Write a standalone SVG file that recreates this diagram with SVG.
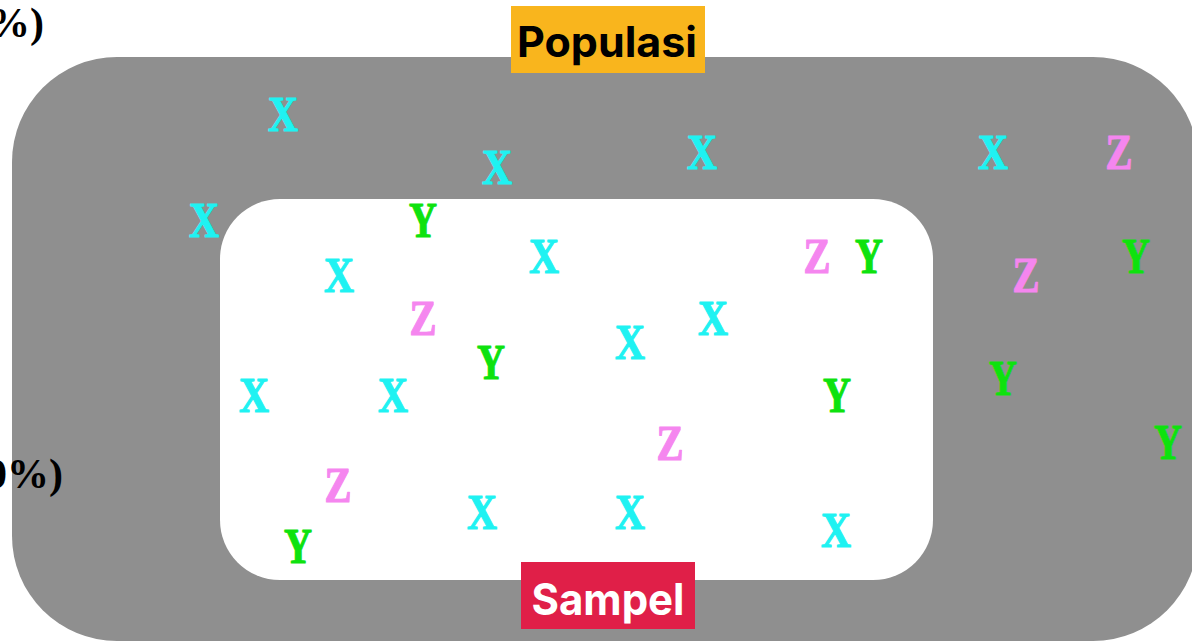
<svg xmlns="http://www.w3.org/2000/svg" width="1192" height="642" viewBox="0 0 1192 642">
<style>
.l{font-family:"Liberation Serif",serif;font-weight:700;font-size:50px;text-anchor:middle;stroke-width:1.2px;stroke-linejoin:round}
.x{fill:#1ff2f2;stroke:#1ff2f2}.y{fill:#0ee20e;stroke:#0ee20e}.z{fill:#f586ef;stroke:#f586ef}
.pct{font-family:"Liberation Serif",serif;font-weight:700;font-size:42px;fill:#000;text-anchor:end}
.lab{font-family:Inter,"Liberation Sans",sans-serif;font-weight:700;text-anchor:middle}
</style>
<rect width="1192" height="642" fill="#fff"/>
<g id="populasi-area"><rect x="12" y="57" width="1186" height="584" rx="105" ry="105" fill="#8f8f8f"/></g>
<g id="sampel-area"><rect x="220" y="199" width="713" height="381" rx="60" ry="60" fill="#fff"/></g>
<text class="pct" x="44" y="37">%)</text>
<text class="pct" x="63" y="488">0%)</text>
<g id="letters">
<text class="l x" x="283" y="131" textLength="30" lengthAdjust="spacingAndGlyphs">X</text>
<text class="l x" x="497" y="184" textLength="30" lengthAdjust="spacingAndGlyphs">X</text>
<text class="l x" x="702" y="169" textLength="30" lengthAdjust="spacingAndGlyphs">X</text>
<text class="l x" x="993" y="169" textLength="30" lengthAdjust="spacingAndGlyphs">X</text>
<text class="l z" x="1119" y="169" textLength="27" lengthAdjust="spacingAndGlyphs">Z</text>
<text class="l x" x="204" y="237" textLength="30" lengthAdjust="spacingAndGlyphs">X</text>
<text class="l y" x="1136" y="273" textLength="28" lengthAdjust="spacingAndGlyphs">Y</text>
<text class="l z" x="1026" y="292" textLength="27" lengthAdjust="spacingAndGlyphs">Z</text>
<text class="l y" x="1003" y="395" textLength="28" lengthAdjust="spacingAndGlyphs">Y</text>
<text class="l y" x="1168" y="459" textLength="28" lengthAdjust="spacingAndGlyphs">Y</text>
<text class="l y" x="423" y="237" textLength="28" lengthAdjust="spacingAndGlyphs">Y</text>
<text class="l x" x="339" y="292" textLength="30" lengthAdjust="spacingAndGlyphs">X</text>
<text class="l x" x="544" y="273" textLength="30" lengthAdjust="spacingAndGlyphs">X</text>
<text class="l z" x="817" y="273" textLength="27" lengthAdjust="spacingAndGlyphs">Z</text>
<text class="l y" x="869" y="273" textLength="28" lengthAdjust="spacingAndGlyphs">Y</text>
<text class="l z" x="423" y="335" textLength="27" lengthAdjust="spacingAndGlyphs">Z</text>
<text class="l x" x="713" y="335" textLength="30" lengthAdjust="spacingAndGlyphs">X</text>
<text class="l x" x="630" y="359" textLength="30" lengthAdjust="spacingAndGlyphs">X</text>
<text class="l y" x="491" y="379" textLength="28" lengthAdjust="spacingAndGlyphs">Y</text>
<text class="l x" x="254" y="412" textLength="30" lengthAdjust="spacingAndGlyphs">X</text>
<text class="l x" x="393" y="412" textLength="30" lengthAdjust="spacingAndGlyphs">X</text>
<text class="l y" x="837" y="412" textLength="28" lengthAdjust="spacingAndGlyphs">Y</text>
<text class="l z" x="670" y="460" textLength="27" lengthAdjust="spacingAndGlyphs">Z</text>
<text class="l z" x="338" y="502" textLength="27" lengthAdjust="spacingAndGlyphs">Z</text>
<text class="l x" x="482" y="529" textLength="30" lengthAdjust="spacingAndGlyphs">X</text>
<text class="l x" x="630" y="529" textLength="30" lengthAdjust="spacingAndGlyphs">X</text>
<text class="l x" x="836" y="547" textLength="30" lengthAdjust="spacingAndGlyphs">X</text>
<text class="l y" x="298" y="563" textLength="28" lengthAdjust="spacingAndGlyphs">Y</text>
</g>
<g id="label-populasi">
<rect x="511" y="6" width="194" height="67" fill="#f9b51d"/>
<text class="lab" x="607" y="57" font-size="42" fill="#000" textLength="180" lengthAdjust="spacingAndGlyphs">Populasi</text>
</g>
<g id="label-sampel">
<rect x="521" y="562" width="174" height="67" fill="#e01f48"/>
<text class="lab" x="608" y="615" font-size="44" fill="#fff" textLength="153" lengthAdjust="spacingAndGlyphs">Sampel</text>
</g>
<g id="connectors"/>
</svg>
